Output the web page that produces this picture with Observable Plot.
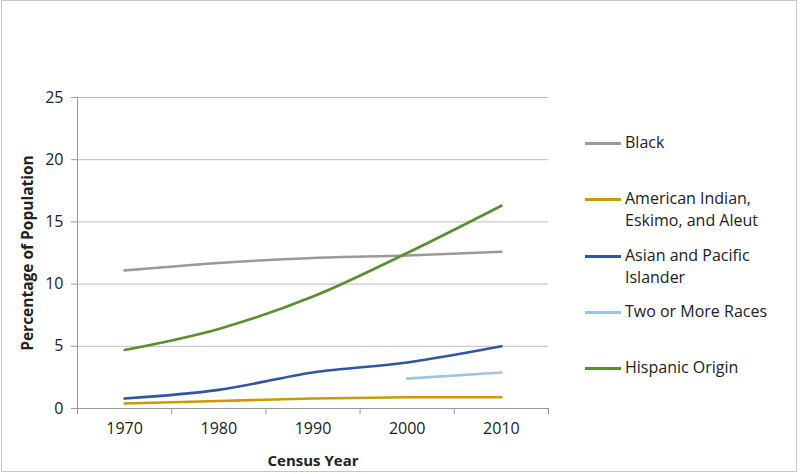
<!DOCTYPE html>
<html>
<head>
<meta charset="utf-8">
<script src="https://cdn.jsdelivr.net/npm/d3@7"></script>
<script src="https://cdn.jsdelivr.net/npm/@observablehq/plot@0.6"></script>
<style>
  html, body { margin: 0; padding: 0; background: #fff; }
  #wrap { position: relative; width: 800px; height: 474px; font-family: "Open Sans", "Liberation Sans", sans-serif; }
  #frame { position: absolute; left: 1px; top: 0px; width: 796px; height: 472px; border: 1px solid #c6c6c6; box-sizing: border-box; pointer-events: none; }
  #chart { position: absolute; left: 0; top: 0; }
  #legend { position: absolute; left: 585px; top: 0; }
  .item { position: absolute; left: 0; width: 210px; }
  .swatch { position: absolute; left: 0; width: 36px; height: 3px; }
  .label { position: absolute; left: 40px; font-size: 16px; line-height: 22px; color: #222; white-space: nowrap; }
</style>
</head>
<body>
<div id="wrap">
  <div id="chart"></div>
  <div id="legend"></div>
  <div id="frame"></div>
</div>
<script>
const years = [1970, 1980, 1990, 2000, 2010];
const seriesNames = ["Black", "American Indian, Eskimo, and Aleut", "Asian and Pacific Islander", "Two or More Races", "Hispanic Origin"];
const legendLines = [["Black"], ["American Indian,", "Eskimo, and Aleut"], ["Asian and Pacific", "Islander"], ["Two or More Races"], ["Hispanic Origin"]];
const colors = ["#9a9a9a", "#cc9a06", "#2f55a4", "#9dc3e6", "#58902f"];
const black = [11.1, 11.7, 12.1, 12.3, 12.6];
const amIndian = [0.4, 0.6, 0.8, 0.9, 0.9];
const asian = [0.8, 1.5, 2.9, 3.7, 5.0];
const twoOrMore = [null, null, null, 2.4, 2.9];
const hispanic = [4.7, 6.4, 9.0, 12.5, 16.3];
const yTicks = [0, 5, 10, 15, 20, 25];
const xBoundaries = [1965, 1975, 1985, 1995, 2005, 2015];

const allValues = [black, amIndian, asian, twoOrMore, hispanic];
const rows = [];
allValues.forEach((vals, i) => {
  vals.forEach((v, j) => {
    if (v != null) rows.push({series: seriesNames[i], year: years[j], value: v});
  });
});

const font = "\"Open Sans\", \"Liberation Sans\", sans-serif";

const plot = Plot.plot({
  width: 800,
  height: 474,
  marginLeft: 77,
  marginRight: 252,
  marginTop: 97,
  marginBottom: 66,
  style: {fontFamily: font, background: "transparent", color: "#222"},
  x: {domain: [1965, 2015], label: null},
  y: {domain: [0, 25], label: null},
  color: {domain: seriesNames, range: colors},
  marks: [
    Plot.gridY(yTicks, {stroke: "#bdbdbd", strokeOpacity: 1, strokeWidth: 1}),
    Plot.ruleX([1965], {stroke: "#9a9a9a", strokeWidth: 1}),
    Plot.ruleY([0], {stroke: "#9a9a9a", strokeWidth: 1}),
    Plot.axisY(yTicks, {tickSize: 6, stroke: "#9a9a9a", tickPadding: 8, fontSize: 16, label: null}),
    Plot.axisX(xBoundaries, {tickSize: 6, stroke: "#9a9a9a", tickFormat: () => "", label: null}),
    Plot.axisX(years, {tickSize: 0, tickPadding: 14, fontSize: 16, tickFormat: d => String(d), label: null}),
    Plot.line(rows, {x: "year", y: "value", z: "series", stroke: "series", strokeWidth: 2.6, curve: "catmull-rom"}),
    Plot.text(["Census Year"], {frameAnchor: "bottom", dy: 57, fontSize: 15, fontWeight: "bold", fill: "#222"}),
    Plot.text(["Percentage of Population"], {frameAnchor: "left", textAnchor: "middle", dx: -49, rotate: -90, fontSize: 15.5, fontWeight: "bold", fill: "#222"})
  ]
});
document.getElementById("chart").appendChild(plot);

const legendY = [143, 199, 256, 312, 368];
const legend = document.getElementById("legend");
seriesNames.forEach((name, i) => {
  const item = document.createElement("div");
  item.className = "item";
  item.style.top = (legendY[i]) + "px";
  const sw = document.createElement("div");
  sw.className = "swatch";
  sw.style.background = colors[i];
  sw.style.top = "-1px";
  const lab = document.createElement("div");
  lab.className = "label";
  lab.style.top = "-12px";
  lab.innerHTML = legendLines[i].join("<br>");
  item.appendChild(sw);
  item.appendChild(lab);
  legend.appendChild(item);
});
</script>
</body>
</html>
